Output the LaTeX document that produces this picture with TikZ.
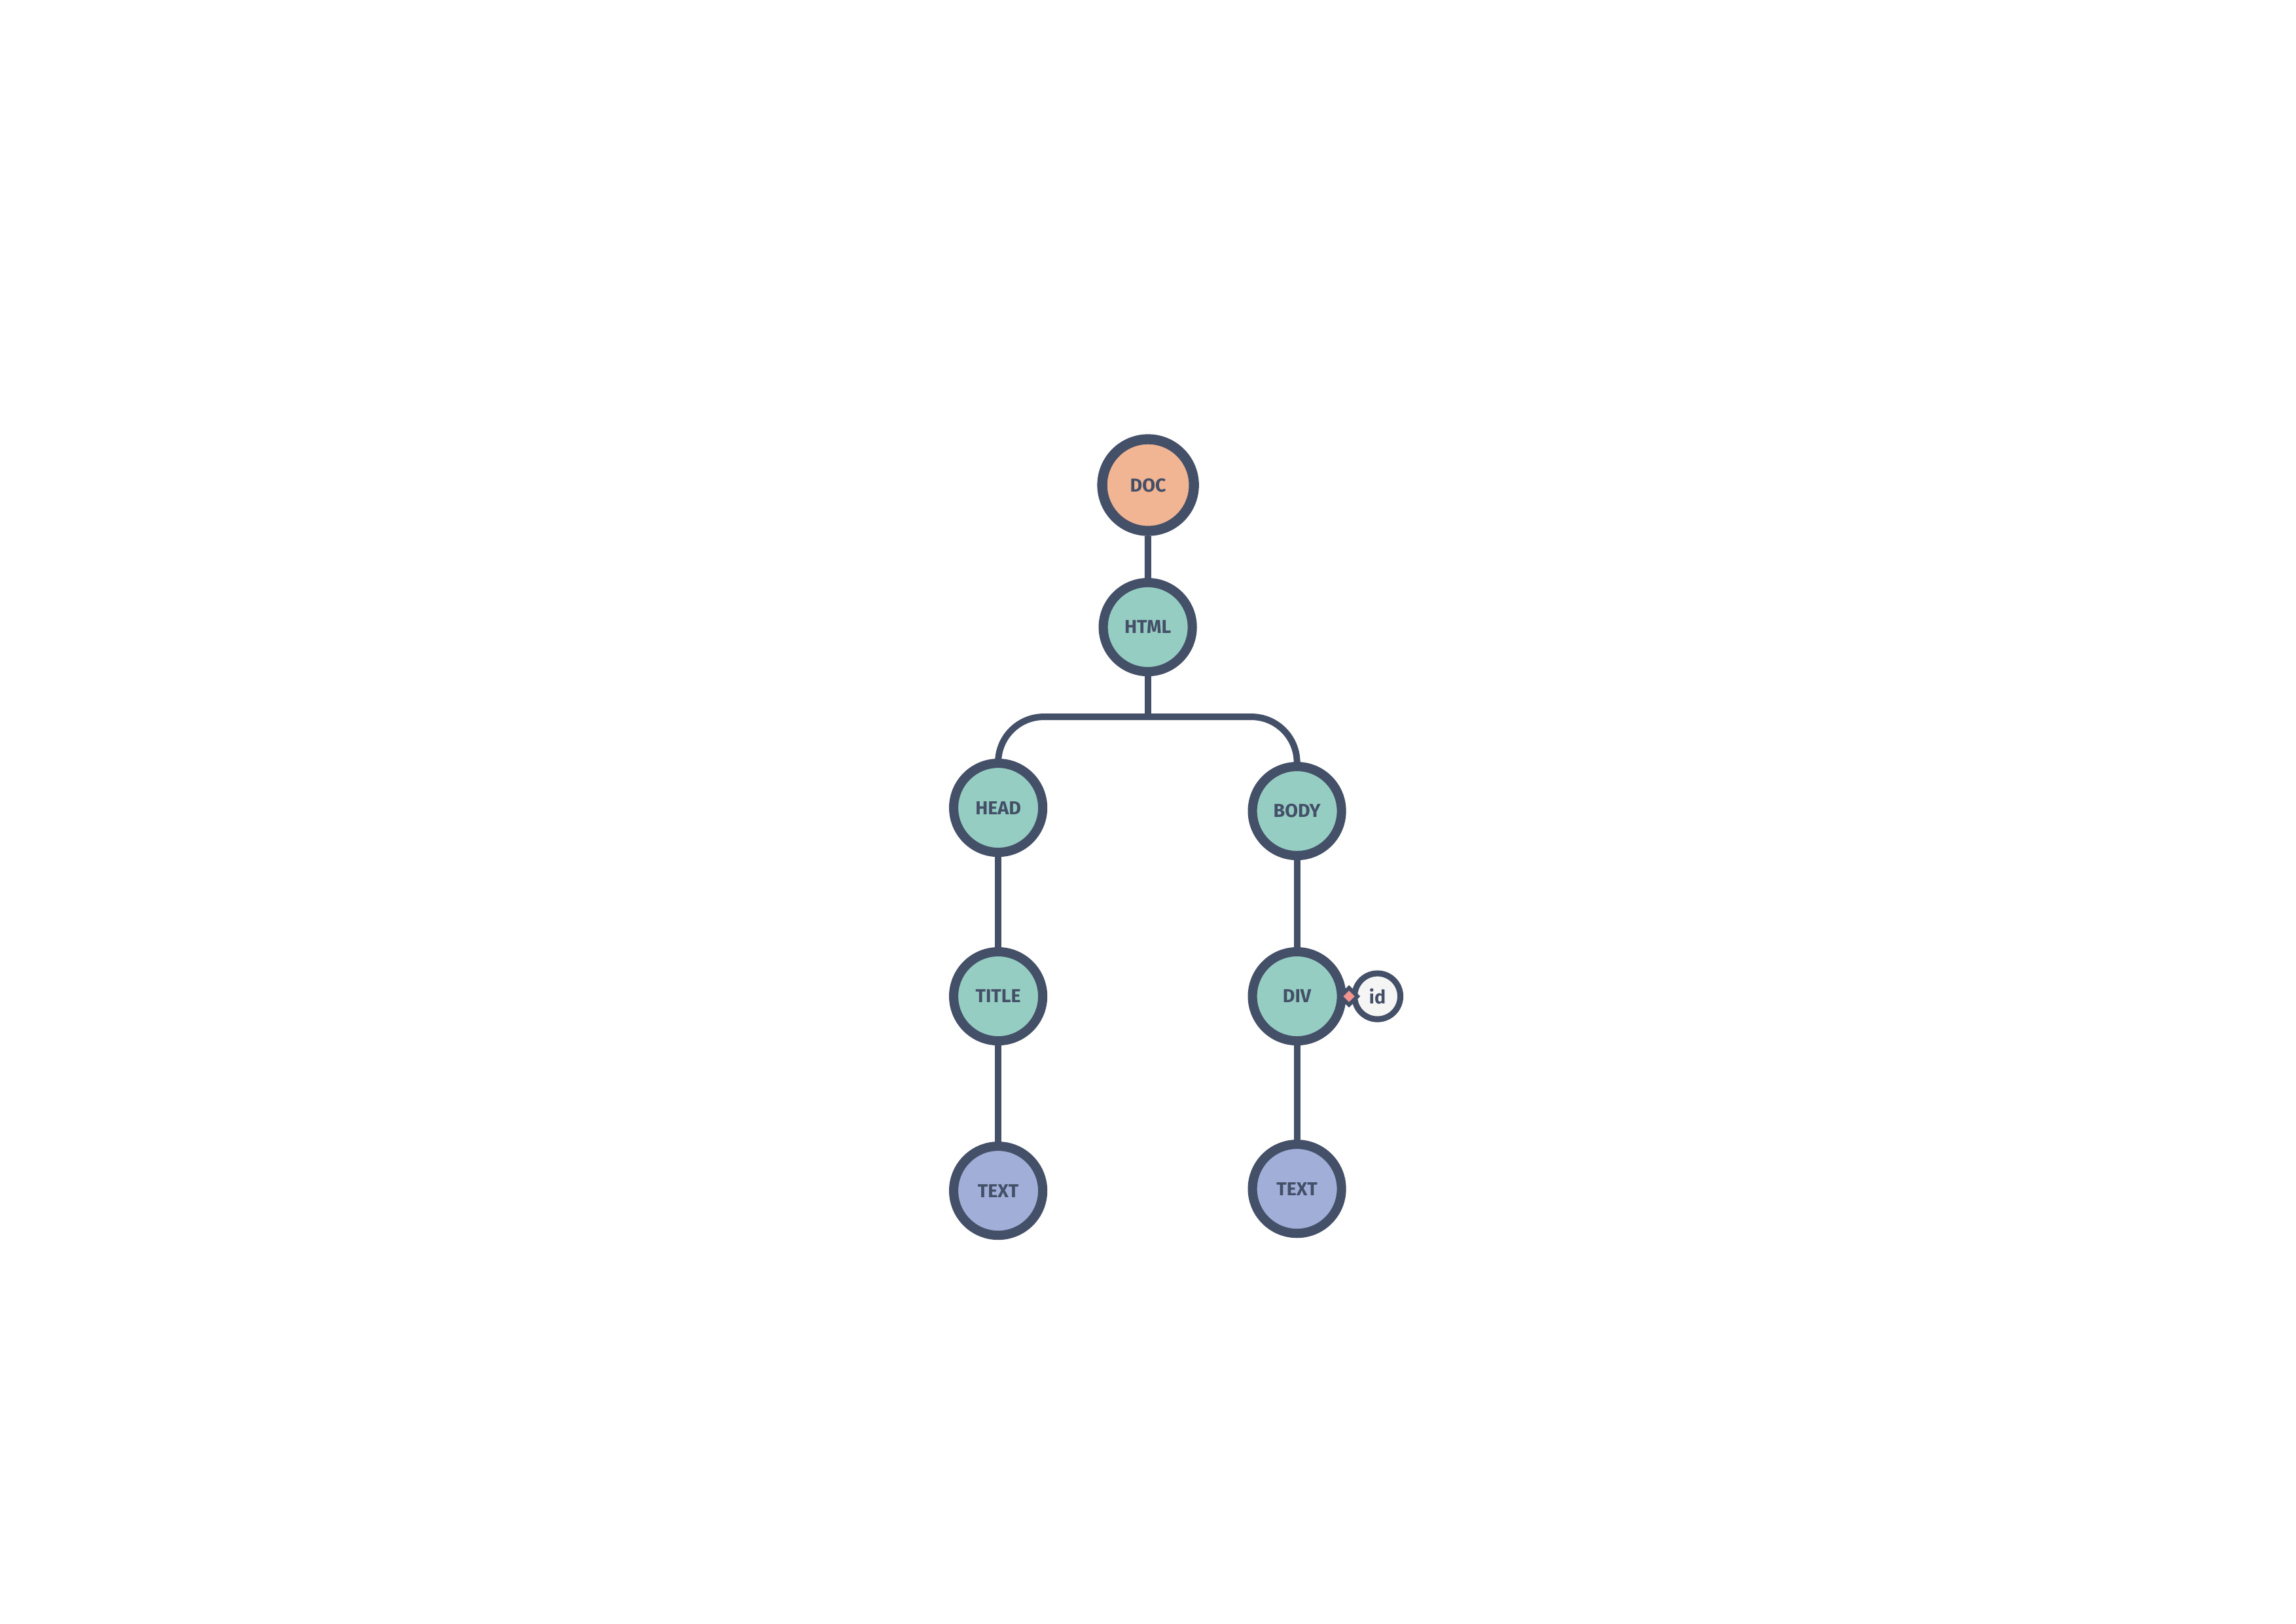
\documentclass[tikz,border=0pt]{standalone}
\usepackage{fontspec}
\setmainfont{Fira Sans}
\usetikzlibrary{shapes.geometric}
\definecolor{ink}{HTML}{444F68}
\definecolor{peach}{HTML}{F1B594}
\definecolor{mint}{HTML}{96CDC3}
\definecolor{lilac}{HTML}{A1AED7}
\definecolor{paper}{HTML}{F5F5F5}
\definecolor{rose}{HTML}{F29590}
\begin{document}
\begin{tikzpicture}[
    elem/.style={circle, draw=ink, line width=3.4pt, minimum size=1.152cm, inner sep=0pt,
                 text=ink, font=\fontsize{6.9}{8}\selectfont\bfseries},
    link/.style={draw=ink, line width=2.4pt},
  ]
    \useasboundingbox (0,-21) rectangle (29.7,0);

    \node[elem, fill=peach, line width=3.7pt, minimum size=1.186cm] (doc) at (14.851,-6.274) {DOC};
    \node[elem, fill=mint] (html) at (14.847,-8.111) {HTML};
    \node[elem, fill=mint] (head) at (12.912,-10.448) {HEAD};
    \node[elem, fill=mint] (body) at (16.777,-10.490) {BODY};
    \node[elem, fill=mint] (title) at (12.912,-12.886) {TITLE};
    \node[elem, fill=mint] (div) at (16.777,-12.886) {DIV};
    \node[elem, fill=lilac] (textl) at (12.912,-15.401) {TEXT};
    \node[elem, fill=lilac] (textr) at (16.777,-15.376) {TEXT};
    \node[elem, fill=paper, line width=2.2pt, minimum size=0.593cm] (id) at (17.818,-12.886) {id};

    \coordinate (bar) at (14.847,-9.271) ;

  \draw[link] (doc) -- (html);
  \draw[link] (html) -- (bar);
  \draw[link, rounded corners=0.59cm] (head.north) |- (bar) -| (body.north);
  \draw[link] (head) -- (title);
  \draw[link] (title) -- (textl);
  \draw[link] (body) -- (div);
  \draw[link] (div) -- (textr);

    \node[diamond, draw=ink, fill=rose, line width=1.4pt, minimum size=0.24cm, inner sep=0pt] (key) at (17.45,-12.886) {};

\end{tikzpicture}
\end{document}
